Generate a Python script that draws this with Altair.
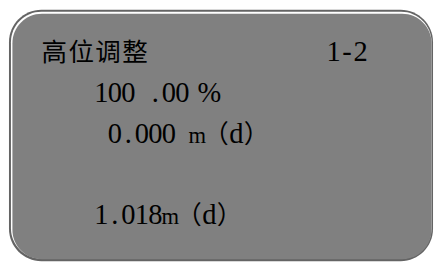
import altair as alt
import pandas as pd

# ---- content (text lines of the LCD-style panel) ----
lines = ["高位调整", "100 .00 %", "0.000 m（d）", "", "1.018m（d）"]
tag = "1-2"

# ---- layout (character grid: row index, starting column) ----
line_rows = [0, 1, 2, 3, 4]
line_cols = [0, 4, 5, 0, 4]
tag_row = 0
tag_col = 21.2

W, H = 434, 256
CELL = 13.75
X0 = 33.25
BROAD = "m"  # glyph wider than one half-width cell in a serif font


def is_wide(ch):
    o = ord(ch)
    return (0x2E80 <= o <= 0x9FFF) or (0xFF00 <= o <= 0xFF60) or (0x3000 <= o <= 0x303F)


records = []
items = list(zip(lines, line_rows, line_cols)) + [(tag, tag_row, tag_col)]
for text, row, col in items:
    c = col
    for ch in text:
        w = 2 if is_wide(ch) else 1
        if ch != " ":
            kind = "cjk" if is_wide(ch) else ("broad" if ch in BROAD else "latin")
            records.append({"ch": ch, "row": row, "xc": c + w / 2, "kind": kind})
        c += w
chars = pd.DataFrame(records)

xs = alt.Scale(domain=[0, 28], range=[X0, X0 + 28 * CELL], nice=False, zero=False)
ys = alt.Scale(domain=[0, 4], range=[52, 218], nice=False, zero=False)

one = pd.DataFrame({"k": [0]})


def panel(x, x2, y, y2, color, r):
    return alt.Chart(one).mark_rect(fill=color, cornerRadius=r).encode(
        x=alt.value(x), x2=alt.value(x2), y=alt.value(y), y2=alt.value(y2)
    )


outer = panel(1, 433, -0.5, 255.5, "#646464", 33)
hilite = panel(3, 431.5, 1.5, 253, "#ffffff", 31)
face = panel(4.5, 431.5, 3.5, 253.5, "#808080", 30)

base = alt.Chart(chars).encode(
    x=alt.X("xc:Q", scale=xs, axis=None),
    y=alt.Y("row:Q", scale=ys, axis=None),
    text="ch:N",
)

cjk = base.transform_filter("datum.kind == 'cjk'").mark_text(
    font="Noto Sans CJK SC", fontSize=26, align="center", baseline="alphabetic", color="#000000"
)
latin = base.transform_filter("datum.kind == 'latin'").mark_text(
    font="Liberation Serif", fontSize=29, align="center", baseline="alphabetic", color="#000000"
)
broad = base.transform_filter("datum.kind == 'broad'").mark_text(
    font="Liberation Serif", fontSize=23, dx=1.5, align="center", baseline="alphabetic", color="#000000"
)

chart = (
    alt.layer(outer, hilite, face, cjk, latin, broad)
    .properties(width=W, height=H, autosize=alt.AutoSizeParams(type="none"), padding=0, background="#ffffff")
    .configure_view(stroke=None)
)

chart.save("out.html", embed_options={"renderer": "svg", "actions": False})
